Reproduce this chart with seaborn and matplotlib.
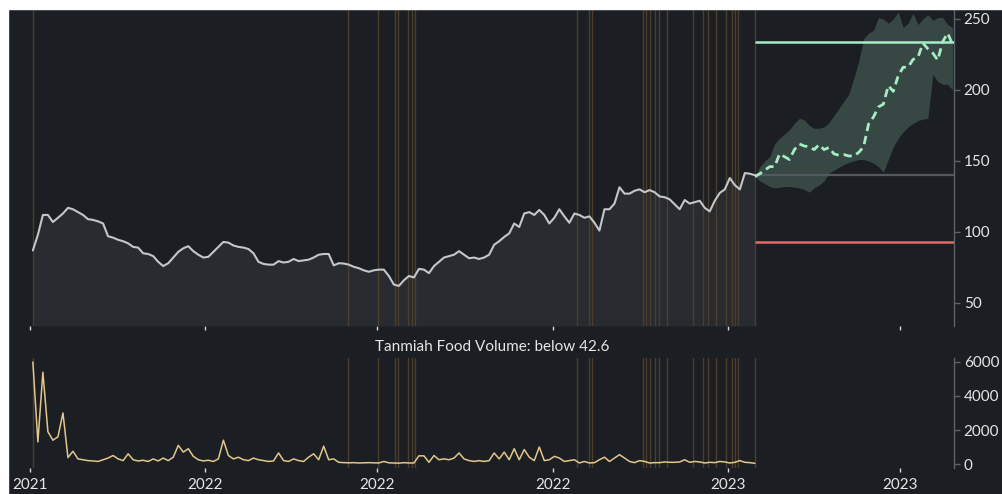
import matplotlib
matplotlib.use("Agg")
import matplotlib.pyplot as plt
import matplotlib.dates as mdates
from matplotlib.patches import Rectangle
import numpy as np
import pandas as pd
import seaborn as sns

# ---- data -------------------------------------------------------------
price = [
    87, 98, 112, 112, 107, 110, 113, 117, 116, 114,
    112, 109, 108.5, 107.5, 106, 97, 96, 94.5, 93.5, 92,
    89.5, 89, 85, 84.5, 83, 79, 76, 78, 82, 86,
    88.5, 90, 86.5, 84, 82, 82.5, 86, 89.5, 93, 92.5,
    90.5, 89.5, 89, 88, 85, 79, 77.5, 77, 77, 79.5,
    78.5, 79, 81, 79.5, 80, 80.5, 82, 84, 84.5, 84.5,
    76.5, 78, 77.8, 77, 75.5, 74.5, 73, 72, 73, 73.5,
    73.5, 69, 63, 62, 66, 69, 68, 74, 73.5, 71,
    76, 79, 82, 83, 84, 86.5, 84, 81.5, 82, 81,
    82, 84, 91, 93.5, 96.5, 99, 106, 103.5, 113, 114,
    112, 115.5, 112, 106, 110, 116, 111, 106.5, 113, 112,
    110, 111, 106.5, 101, 116, 116, 120, 131.5, 127, 127,
    129, 130, 128, 129.5, 128, 125, 124.5, 123, 119.5, 116,
    122.5, 120, 121, 122, 117, 114.5, 122, 127.5, 130, 138,
    133, 130, 141.5, 141, 140,
]

volume = [
    6000, 1300, 5400, 1900, 1400, 1600, 3000, 380, 750, 300,
    250, 200, 180, 150, 250, 350, 500, 300, 200, 600,
    250, 180, 220, 150, 300, 180, 350, 200, 400, 1100,
    700, 900, 450, 250, 180, 220, 150, 300, 1400, 500,
    300, 400, 250, 200, 350, 250, 200, 150, 180, 650,
    200, 150, 300, 200, 150, 400, 600, 250, 1050, 250,
    300, 100, 80, 70, 80, 60, 70, 80, 70, 60,
    150, 70, 60, 50, 80, 60, 60, 480, 480, 100,
    500, 250, 300, 250, 350, 650, 300, 200, 150, 200,
    150, 200, 650, 300, 700, 250, 900, 250, 850, 400,
    200, 1000, 200, 250, 450, 350, 150, 200, 250, 60,
    150, 60, 80, 250, 400, 150, 350, 550, 350, 150,
    80, 200, 150, 60, 80, 80, 120, 100, 100, 120,
    250, 100, 150, 120, 60, 100, 80, 150, 120, 60,
    100, 200, 100, 80, 40,
]

forecast_mean = [
    139, 141, 143.5, 146, 146, 155, 153, 151, 158, 162,
    160.5, 160, 158, 161.5, 158, 159.5, 155, 154, 154.5, 153.5,
    153.5, 156, 160, 176, 181, 188, 190, 203, 199, 210,
    216, 216, 221.5, 223, 233, 229, 226, 221, 234, 240,
    232,
]
forecast_upper = [
    139, 146, 150, 153, 162, 166, 169, 172, 176.5, 180,
    179, 175, 173, 173, 174, 177, 182, 187, 192, 197,
    208, 220, 236, 240, 242, 251, 250, 247, 250, 255,
    244, 247, 254, 246, 250, 253, 249, 251, 251, 246,
    244,
]
forecast_lower = [
    139, 136, 134, 132, 131, 131.5, 132, 132, 131.5, 131,
    130, 128, 131, 133, 136, 141.5, 143.5, 145.5, 147.5, 149,
    150, 151, 151, 150, 148.5, 146, 142, 151, 160, 166,
    170.5, 174, 176.5, 178.5, 179.5, 180, 211, 206, 204, 204,
    200,
]

signal_dates = [
    "2021-09-03", "2022-04-11", "2022-05-02", "2022-05-14", "2022-05-16",
    "2022-05-23", "2022-05-26", "2022-05-28", "2022-09-18", "2022-09-26",
    "2022-09-28", "2022-11-03", "2022-11-05", "2022-11-08", "2022-11-11",
    "2022-11-14", "2022-11-20", "2022-12-08", "2022-12-15", "2022-12-18",
    "2022-12-24", "2022-12-31", "2023-01-04", "2023-01-06", "2023-01-08",
    "2023-01-20",
]

target_level = 233.8
last_close = 140
stop_level = 93
volume_title = "Tanmiah Food Volume: below 42.6"

hist = pd.DataFrame({
    "date": pd.date_range("2021-09-03", "2023-01-20", periods=len(price)),
    "price": price,
    "volume": volume,
})
fc = pd.DataFrame({
    "date": pd.date_range("2023-01-20", "2023-06-07", periods=len(forecast_mean)),
    "mean": forecast_mean,
    "upper": forecast_upper,
    "lower": forecast_lower,
})
signals = pd.to_datetime(signal_dates)

# ---- style ------------------------------------------------------------
BG = "#1b1e23"
FILL = "#282b30"
TXT = "#e6e6e6"
SPINE = "#5d626a"
SIGNAL = "#4d3d2b"
MINT = "#a6ecc4"
SAND = "#e3c68a"

sns.set_theme(style="dark")
plt.rcParams["font.family"] = ["Lato", "DejaVu Sans"]
plt.rcParams.update({
    "axes.facecolor": BG,
    "figure.facecolor": BG,
    "axes.edgecolor": SPINE,
    "xtick.color": TXT,
    "ytick.color": SPINE,
    "xtick.labelcolor": TXT,
    "ytick.labelcolor": TXT,
})

W, H = 1002, 494
fig = plt.figure(figsize=(W / 100, H / 100), dpi=100)

def px_axes(x0, y0, x1, y1):
    return fig.add_axes([x0 / W, 1 - y1 / H, (x1 - x0) / W, (y1 - y0) / H])

ax = px_axes(30, 9, 954, 326)
axv = px_axes(30, 358, 954, 468)

x_left = pd.Timestamp("2021-09-01")
x_right = pd.Timestamp("2023-06-08")

# ---- price panel ------------------------------------------------------
ymin, ymax = 33.8, 257
ax.fill_between(hist["date"], hist["price"], ymin, color=FILL, lw=0, zorder=1)
for d in signals:
    ax.axvline(d, color=SIGNAL, lw=1, zorder=2)
sns.lineplot(data=hist, x="date", y="price", ax=ax, color="#c4c6ca", lw=1.5, zorder=4)

ax.fill_between(fc["date"], fc["lower"], fc["upper"], color="#6f9c8a", alpha=0.33, lw=0, zorder=2)
for level, col, lw in [(last_close, "#55585e", 1.6), (target_level, MINT, 1.8), (stop_level, "#e46a6a", 1.8)]:
    ax.hlines(level, fc["date"].iloc[0], x_right, color=col, lw=lw, zorder=3)
sns.lineplot(data=fc, x="date", y="mean", ax=ax, color=MINT, lw=2, zorder=5,
             linestyle=(0, (3.0, 1.8)))

ax.set_ylim(ymin, ymax)
ax.set_yticks([50, 100, 150, 200, 250])

# ---- volume panel -----------------------------------------------------
for d in signals:
    axv.axvline(d, color=SIGNAL, lw=1, zorder=1)
sns.lineplot(data=hist, x="date", y="volume", ax=axv, color=SAND, lw=1.1, zorder=3)
axv.set_ylim(-235, 6235)
axv.set_yticks([0, 2000, 4000, 6000])
axv.set_title(volume_title, color=TXT, fontsize=11, pad=5)

# ---- shared axis formatting ------------------------------------------
for a in (ax, axv):
    a.set_xlim(x_left, x_right)
    a.xaxis.set_major_locator(mdates.MonthLocator(bymonth=[1, 5, 9]))
    a.xaxis.set_major_formatter(mdates.DateFormatter("%Y"))
    a.set_xlabel("")
    a.set_ylabel("")
    a.grid(False)
    for s in ("top", "left", "bottom"):
        a.spines[s].set_visible(False)
    a.spines["right"].set_visible(True)
    a.spines["right"].set_color(SPINE)
    a.spines["right"].set_linewidth(1)
    a.yaxis.tick_right()
    a.tick_params(axis="y", which="major", left=False, right=True, labelleft=False,
                  labelright=True, length=4, width=1, pad=3, labelsize=11)
    a.tick_params(axis="x", which="major", bottom=True, length=3, width=1,
                  color="#d8d8d8", pad=4, labelsize=11)
ax.tick_params(axis="x", labelbottom=False)

# white margin strips along the top and left edges
fig.patches.append(Rectangle((0, 1 - 9 / H), 1, 9 / H, transform=fig.transFigure,
                             color="white", zorder=10))
fig.patches.append(Rectangle((0, 0), 8 / W, 1, transform=fig.transFigure,
                             color="white", zorder=10))

fig.savefig("out.png", dpi=100, facecolor=BG)
